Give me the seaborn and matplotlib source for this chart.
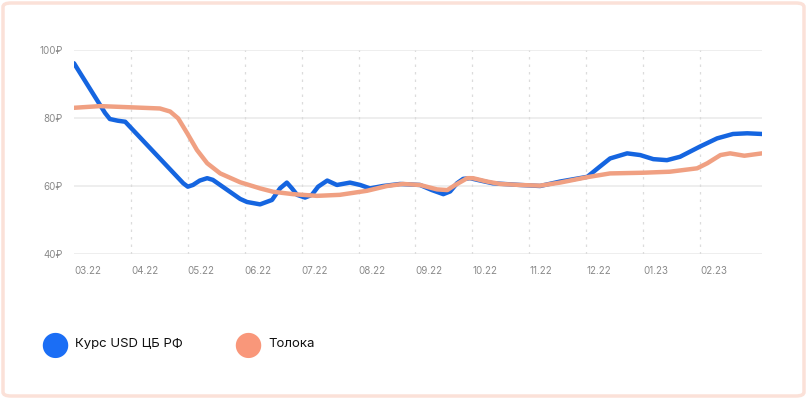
import matplotlib
matplotlib.use("Agg")
import matplotlib.pyplot as plt
from matplotlib.patches import FancyBboxPatch
import seaborn as sns
import pandas as pd

# --- data (x = months since 03.22) ---
month_labels = ["03.22", "04.22", "05.22", "06.22", "07.22", "08.22", "09.22",
                "10.22", "11.22", "12.22", "01.23", "02.23"]
y_ticks = [40, 60, 80, 100]
y_labels = ["40₽", "60₽", "80₽", "100₽"]

usd_x = [0.0, 0.545, 0.63, 0.77, 0.90, 1.92, 2.0, 2.09, 2.21, 2.34, 2.44, 2.92,
         3.04, 3.27, 3.48, 3.62, 3.74, 3.83, 3.92, 4.06, 4.18, 4.29, 4.45, 4.62,
         4.85, 5.03, 5.20, 5.43, 5.73, 6.08, 6.29, 6.49, 6.61, 6.73, 6.84, 6.96,
         7.14, 7.36, 7.84, 8.19, 8.54, 9.02, 9.24, 9.42, 9.72, 9.95, 10.18,
         10.42, 10.65, 11.00, 11.30, 11.58, 11.83, 12.09]
usd_y = [96.1, 81.5, 79.7, 79.2, 78.9, 60.8, 59.8, 60.3, 61.6, 62.3, 61.8, 56.2,
         55.3, 54.6, 55.9, 59.3, 61.0, 59.3, 57.4, 56.6, 57.4, 59.8, 61.6, 60.3,
         61.0, 60.3, 59.3, 60.0, 60.6, 60.3, 58.8, 57.6, 58.4, 60.8, 62.1, 62.3,
         61.6, 60.8, 60.3, 60.0, 61.3, 62.7, 65.7, 68.1, 69.6, 69.1, 67.9,
         67.6, 68.6, 71.6, 74.0, 75.3, 75.5, 75.3]

toloka_x = [0.0, 0.46, 1.51, 1.69, 1.83, 1.99, 2.16, 2.34, 2.57, 2.92, 3.27, 3.50,
            3.85, 4.27, 4.67, 5.15, 5.50, 5.78, 6.08, 6.38, 6.56, 6.70, 6.91, 7.01,
            7.26, 7.49, 7.84, 8.19, 8.54, 9.02, 9.42, 10.0, 10.47, 10.95, 11.13,
            11.36, 11.53, 11.78, 12.09]
toloka_y = [83.0, 83.5, 82.8, 81.9, 79.9, 75.5, 70.6, 66.7, 63.7, 61.1, 59.3, 58.3,
            57.6, 57.1, 57.4, 58.6, 60.0, 60.6, 60.3, 59.0, 58.8, 60.3, 62.3, 62.3,
            61.3, 60.6, 60.3, 60.1, 61.0, 62.6, 63.7, 63.9, 64.2, 65.2, 66.7,
            69.1, 69.6, 68.9, 69.6]

usd_color = "#1565e0"
toloka_color = "#f0a082"
usd_dot = "#1b6ef5"
toloka_dot = "#f9977a"

sns.set_style("white")
plt.rcParams["font.family"] = ["Inter", "DejaVu Sans"]

fig = plt.figure(figsize=(8.07, 3.99), dpi=100)
ax = fig.add_axes([74 / 807, 1 - 254 / 399, (762 - 74) / 807, 204 / 399])

df_usd = pd.DataFrame({"x": usd_x, "y": usd_y})
df_tol = pd.DataFrame({"x": toloka_x, "y": toloka_y})

# grid
for v in y_ticks:
    ax.axhline(v, color="#ebebeb", lw=1.2, zorder=0)
for m in range(1, len(month_labels)):
    ax.axvline(m, color="#dcdcdc", lw=0.9, ls=(0, (2, 4)), zorder=0)

sns.lineplot(data=df_usd, x="x", y="y", ax=ax, color=usd_color, lw=3.2,
             solid_capstyle="round", solid_joinstyle="round", zorder=2)
sns.lineplot(data=df_tol, x="x", y="y", ax=ax, color=toloka_color, lw=3.2,
             solid_capstyle="round", solid_joinstyle="round", zorder=3)

ax.set_xlim(0, 12.09)
ax.set_ylim(40, 100)
ax.set_xlabel("")
ax.set_ylabel("")
for s in ax.spines.values():
    s.set_visible(False)

ax.set_yticks(y_ticks)
ax.set_yticklabels(y_labels)
ax.set_xticks(range(len(month_labels)))
ax.set_xticklabels(month_labels, ha="left")
ax.tick_params(axis="both", length=0, labelsize=7, labelcolor="#8a8a8a")
ax.tick_params(axis="x", pad=9)
ax.tick_params(axis="y", pad=8)

# legend
ly = 1 - 344 / 399
fig.text(55 / 807, ly, "●", color=usd_dot, fontsize=24, ha="center", va="center",
         family="DejaVu Sans")
fig.text(75 / 807, ly, "Курс USD ЦБ РФ", fontsize=9.5, ha="left", va="center",
         color="#111111")
fig.text(248 / 807, ly, "●", color=toloka_dot, fontsize=24, ha="center", va="center",
         family="DejaVu Sans")
fig.text(268 / 807, ly, "Толока", fontsize=9.5, ha="left", va="center",
         color="#111111")

# frame
frame = FancyBboxPatch((3 / 807, 3 / 399), 801 / 807, 393 / 399,
                       boxstyle="round,pad=0,rounding_size=0.01",
                       transform=fig.transFigure, facecolor="none",
                       edgecolor="#fbe1d8", lw=2.5)
fig.patches.append(frame)

fig.savefig("out.png", dpi=100)
